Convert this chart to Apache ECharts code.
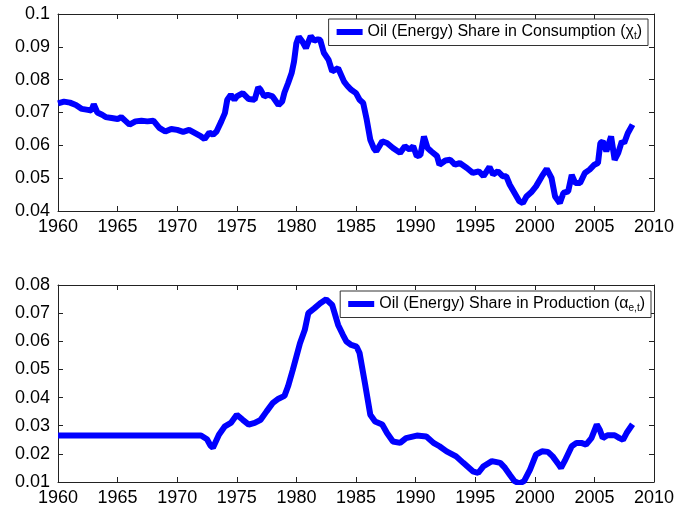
<!DOCTYPE html>
<html>
<head>
<meta charset="utf-8">
<script src="https://cdn.jsdelivr.net/npm/echarts@6/dist/echarts.min.js"></script>
<style>
  html, body { margin: 0; padding: 0; background: #fff; }
  #chart { width: 693px; height: 515px; }
</style>
</head>
<body>
<div id="chart"></div>
<script>
// x axis ticks
var yearTicks = [1960, 1965, 1970, 1975, 1980, 1985, 1990, 1995, 2000, 2005, 2010];

// oil share in consumption (chi_t)
var consYears = [
    1960, 1960.5, 1961, 1961.5, 1962, 1962.5, 1962.8, 1963, 1963.3, 1963.7,
    1964, 1964.5, 1965, 1965.3, 1965.7, 1966, 1966.5, 1967, 1967.5, 1968,
    1968.5, 1969, 1969.5, 1970, 1970.5, 1971, 1971.5, 1972, 1972.3, 1972.7,
    1973, 1973.3, 1973.7, 1974, 1974.2, 1974.5, 1974.8, 1975, 1975.5, 1976,
    1976.5, 1976.8, 1977, 1977.3, 1977.6, 1978, 1978.5, 1978.8, 1979, 1979.3,
    1979.6, 1979.8, 1980, 1980.2, 1980.5, 1980.8, 1981.2, 1981.5, 1981.8, 1982,
    1982.3, 1982.7, 1983, 1983.5, 1984, 1984.3, 1984.6, 1985, 1985.3, 1985.6,
    1985.9, 1986.2, 1986.5, 1986.7, 1987.2, 1987.6, 1988.1, 1988.7, 1989.1, 1989.5,
    1989.8, 1990.1, 1990.4, 1990.7, 1991, 1991.3, 1991.8, 1992, 1992.5, 1992.9,
    1993.3, 1993.7, 1994.3, 1994.8, 1995.3, 1995.7, 1996.2, 1996.5, 1996.9, 1997.3,
    1997.6, 1997.9, 1998.3, 1998.7, 1999, 1999.3, 1999.7, 2000.1, 2000.6, 2001,
    2001.4, 2001.7, 2002.1, 2002.4, 2002.8, 2003.1, 2003.4, 2003.8, 2004.2, 2004.6,
    2005, 2005.3, 2005.5, 2005.7, 2006, 2006.4, 2006.7, 2007, 2007.3, 2007.5,
    2007.8, 2008.2
];
var consValues = [
    0.0728, 0.0733, 0.0730, 0.0723, 0.0711, 0.0708, 0.0706, 0.0725, 0.0700, 0.0693,
    0.0686, 0.0683, 0.0680, 0.0686, 0.0673, 0.0663, 0.0673, 0.0675, 0.0673, 0.0675,
    0.0653, 0.0642, 0.0650, 0.0647, 0.0641, 0.0647, 0.0637, 0.0627, 0.0619, 0.0639,
    0.0632, 0.0642, 0.0673, 0.0698, 0.0739, 0.0754, 0.0739, 0.0749, 0.0759, 0.0741,
    0.0739, 0.0777, 0.0769, 0.0749, 0.0754, 0.0749, 0.0723, 0.0733, 0.0761, 0.0789,
    0.0820, 0.0855, 0.0911, 0.0931, 0.0916, 0.0896, 0.0933, 0.0919, 0.0923, 0.0921,
    0.0882, 0.0860, 0.0825, 0.0835, 0.0794, 0.0780, 0.0769, 0.0759, 0.0739, 0.0729,
    0.0678, 0.0617, 0.0591, 0.0582, 0.0612, 0.0607, 0.0592, 0.0577, 0.0597, 0.0587,
    0.0597, 0.0567, 0.0570, 0.0627, 0.0592, 0.0582, 0.0567, 0.0541, 0.0554, 0.0556,
    0.0541, 0.0546, 0.0531, 0.0516, 0.0521, 0.0506, 0.0534, 0.0511, 0.0521, 0.0506,
    0.0506, 0.0480, 0.0455, 0.0430, 0.0424, 0.0444, 0.0457, 0.0475, 0.0506, 0.0528,
    0.0501, 0.0444, 0.0424, 0.0455, 0.0460, 0.0510, 0.0485, 0.0485, 0.0516, 0.0526,
    0.0541, 0.0546, 0.0607, 0.0612, 0.0582, 0.0627, 0.0556, 0.0577, 0.0612, 0.0607,
    0.0637, 0.0663
];

// oil share in production (alpha_e,t)
var prodYears = [
    1960, 1965, 1970, 1972, 1972.5, 1972.8, 1973, 1973.5, 1974, 1974.5,
    1975, 1975.5, 1976, 1976.5, 1977, 1977.5, 1978, 1978.5, 1979, 1979.3,
    1979.7, 1980, 1980.3, 1980.7, 1981, 1981.5, 1982, 1982.5, 1983, 1983.5,
    1983.9, 1984.2, 1984.6, 1985.05, 1985.3, 1985.75, 1986.2, 1986.6, 1987.2, 1987.6,
    1988.1, 1988.7, 1989.2, 1990.1, 1990.9, 1991.5, 1992, 1992.6, 1993.4, 1994,
    1994.8, 1995.25, 1995.7, 1996.4, 1997.1, 1997.5, 1997.9, 1998.3, 1998.7, 1999.1,
    1999.6, 2000.1, 2000.6, 2001.1, 2001.5, 2002, 2002.2, 2002.5, 2003.1, 2003.5,
    2003.9, 2004.3, 2004.75, 2005.2, 2005.45, 2005.7, 2006.1, 2006.7, 2007.1, 2007.4,
    2007.7, 2008.2
];
var prodValues = [
    0.0265, 0.0265, 0.0265, 0.0265, 0.0252, 0.0229, 0.0222, 0.0268, 0.0298, 0.0310,
    0.0339, 0.0321, 0.0304, 0.0310, 0.0321, 0.0351, 0.0380, 0.0396, 0.0406, 0.0440,
    0.0499, 0.0546, 0.0593, 0.0640, 0.0700, 0.0717, 0.0735, 0.0749, 0.0729, 0.0658,
    0.0623, 0.0599, 0.0587, 0.0581, 0.0558, 0.0451, 0.0339, 0.0315, 0.0304, 0.0274,
    0.0244, 0.0239, 0.0256, 0.0265, 0.0262, 0.0239, 0.0227, 0.0209, 0.0191, 0.0168,
    0.0138, 0.0132, 0.0156, 0.0174, 0.0168, 0.0150, 0.0126, 0.0103, 0.0095, 0.0103,
    0.0144, 0.0197, 0.0209, 0.0207, 0.0191, 0.0162, 0.0150, 0.0174, 0.0227, 0.0239,
    0.0239, 0.0233, 0.0256, 0.0304, 0.0286, 0.0256, 0.0266, 0.0266, 0.0256, 0.0250,
    0.0274, 0.0305
];

var consName = 'Oil (Energy) Share in Consumption';
var prodName = 'Oil (Energy) Share in Production';

function pairs(xs, ys) {
    var out = [];
    for (var i = 0; i < xs.length; i++) {
        out.push([xs[i], ys[i]]);
    }
    return out;
}

var font = 'Liberation Sans, Arial, Helvetica, sans-serif';
var axisColor = '#222';

// box-shaped axes: bottom/left carry labels, top/right only ticks
function xAxes(gridIndex) {
    var base = {
        type: 'value',
        gridIndex: gridIndex,
        min: yearTicks[0],
        max: yearTicks[yearTicks.length - 1],
        interval: 5,
        splitLine: { show: false },
        axisLine: { show: true, onZero: false, lineStyle: { color: axisColor, width: 1 } },
        axisTick: { show: true, inside: true, length: 5, lineStyle: { color: axisColor } }
    };
    var bottom = Object.assign({}, base, {
        position: 'bottom',
        axisLabel: {
            color: '#000', fontSize: 18, fontFamily: font, margin: 7,
            formatter: function (v) { return String(v); }
        }
    });
    var top = Object.assign({}, base, {
        position: 'top',
        axisLabel: { show: false }
    });
    return [bottom, top];
}

function yAxes(gridIndex, min, max) {
    var base = {
        type: 'value',
        gridIndex: gridIndex,
        min: min,
        max: max,
        interval: 0.01,
        splitLine: { show: false },
        axisLine: { show: true, onZero: false, lineStyle: { color: axisColor, width: 1 } },
        axisTick: { show: true, inside: true, length: 5, lineStyle: { color: axisColor } }
    };
    var left = Object.assign({}, base, {
        position: 'left',
        axisLabel: {
            color: '#000', fontSize: 18, fontFamily: font, margin: 8,
            formatter: function (v) { return String(Math.round(v * 100) / 100); }
        }
    });
    var right = Object.assign({}, base, {
        position: 'right',
        axisLabel: { show: false }
    });
    return [left, right];
}

var legendBase = {
    orient: 'horizontal',
    backgroundColor: '#fff',
    borderColor: '#333',
    borderWidth: 1,
    borderRadius: 0,
    padding: [5, 6, 4, 8],
    itemWidth: 26,
    itemHeight: 6,
    itemGap: 0,
    icon: 'rect',
    textStyle: {
        color: '#000',
        fontSize: 16,
        fontFamily: font,
        rich: {
            g: { fontSize: 16, fontFamily: font, color: '#000' },
            s: { fontSize: 10, fontFamily: font, color: '#000', padding: [9, 0, 0, 0] }
        }
    }
};

var chart = echarts.init(document.getElementById('chart'), null, { renderer: 'canvas' });

var option = {
    animation: false,
    backgroundColor: '#fff',
    grid: [
        { left: 58, right: 39, top: 14, height: 197 },
        { left: 58, right: 39, top: 285, height: 197 }
    ],
    xAxis: xAxes(0).concat(xAxes(1)),
    yAxis: yAxes(0, 0.04, 0.1).concat(yAxes(1, 0.01, 0.08)),
    legend: [
        Object.assign({}, legendBase, {
            data: [consName],
            right: 45,
            top: 19,
            formatter: function (name) { return name + ' ({g|χ}{s|t})'; }
        }),
        Object.assign({}, legendBase, {
            data: [prodName],
            right: 42,
            top: 291,
            formatter: function (name) { return name + ' ({g|α}{s|e,t})'; }
        })
    ],
    series: [
        {
            name: consName,
            type: 'line',
            xAxisIndex: 0,
            yAxisIndex: 0,
            showSymbol: false,
            data: pairs(consYears, consValues),
            lineStyle: { color: '#0000ff', width: 6 },
            itemStyle: { color: '#0000ff' }
        },
        {
            name: prodName,
            type: 'line',
            xAxisIndex: 2,
            yAxisIndex: 2,
            showSymbol: false,
            data: pairs(prodYears, prodValues),
            lineStyle: { color: '#0000ff', width: 6 },
            itemStyle: { color: '#0000ff' }
        }
    ]
};

chart.setOption(option);
</script>
</body>
</html>
